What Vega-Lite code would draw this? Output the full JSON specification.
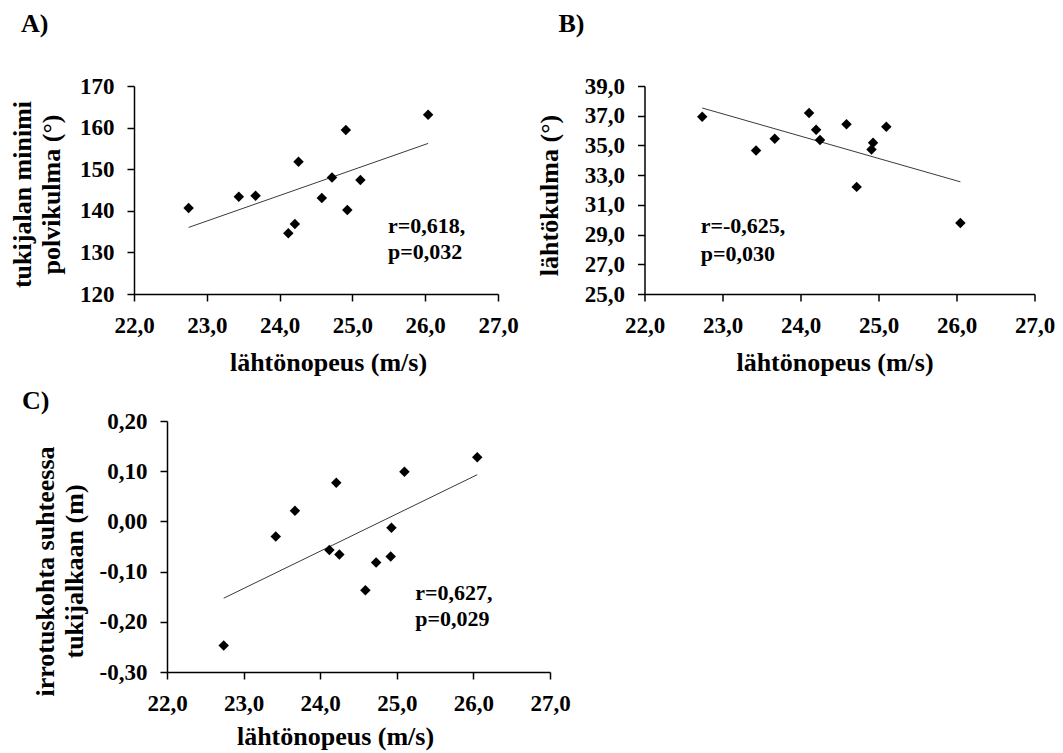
{
  "$schema": "https://vega.github.io/schema/vega-lite/v6.json",
  "background": "white",
  "padding": {"left": 8, "top": 11, "right": 5, "bottom": 5},
  "datasets": {
    "a": [
      {"x": 22.75, "y": 140.65}, {"x": 23.44, "y": 143.4}, {"x": 23.67, "y": 143.6},
      {"x": 24.12, "y": 134.6}, {"x": 24.21, "y": 136.8}, {"x": 24.26, "y": 151.8},
      {"x": 24.58, "y": 143.05}, {"x": 24.72, "y": 148.0}, {"x": 24.91, "y": 159.4},
      {"x": 24.93, "y": 140.2}, {"x": 25.11, "y": 147.4}, {"x": 26.04, "y": 163.1}
    ],
    "aLine": [{"x": 22.75, "y": 136.0}, {"x": 26.04, "y": 156.2}],
    "aText": [{"x": 25.49, "y": 136.4, "label": "r=0,618,"}, {"x": 25.49, "y": 130.0, "label": "p=0,032"}],
    "b": [
      {"x": 22.74, "y": 36.93}, {"x": 23.43, "y": 34.66}, {"x": 23.67, "y": 35.45},
      {"x": 24.11, "y": 37.18}, {"x": 24.2, "y": 36.06}, {"x": 24.25, "y": 35.36},
      {"x": 24.59, "y": 36.42}, {"x": 24.72, "y": 32.21}, {"x": 24.91, "y": 34.73},
      {"x": 24.93, "y": 35.18}, {"x": 25.1, "y": 36.26}, {"x": 26.05, "y": 29.78}
    ],
    "bLine": [{"x": 22.74, "y": 37.52}, {"x": 26.05, "y": 32.55}],
    "bText": [{"x": 22.72, "y": 29.6, "label": "r=-0,625,"}, {"x": 22.72, "y": 27.7, "label": "p=0,030"}],
    "c": [
      {"x": 22.74, "y": -0.247}, {"x": 23.42, "y": -0.03}, {"x": 23.67, "y": 0.021},
      {"x": 24.12, "y": -0.057}, {"x": 24.21, "y": 0.077}, {"x": 24.25, "y": -0.066},
      {"x": 24.59, "y": -0.137}, {"x": 24.73, "y": -0.082}, {"x": 24.92, "y": -0.07},
      {"x": 24.93, "y": -0.0125}, {"x": 25.1, "y": 0.099}, {"x": 26.05, "y": 0.128}
    ],
    "cLine": [{"x": 22.74, "y": -0.153}, {"x": 26.05, "y": 0.093}],
    "cText": [{"x": 25.24, "y": -0.142, "label": "r=0,627,"}, {"x": 25.24, "y": -0.195, "label": "p=0,029"}]
  },
  "spacing": 13,
  "vconcat": [
    {
      "bounds": "flush",
      "spacing": 146.5,
      "hconcat": [
        {
          "title": {"text": "A)", "dx": -113, "offset": 38},
          "width": 364,
          "height": 208,
          "layer": [
            {
              "data": {"name": "aLine"},
              "mark": {"type": "line", "color": "#3a3a3a", "strokeWidth": 1},
              "encoding": {
                "x": {"field": "x", "type": "quantitative", "scale": {"domain": [22, 27], "nice": false, "zero": false},
                  "axis": {"values": [22, 23, 24, 25, 26, 27], "tickCount": 12, "format": ".1f", "labelOverlap": false, "title": "lähtönopeus (m/s)", "titleX": 194, "titleY": 76}},
                "y": {"field": "y", "type": "quantitative", "scale": {"domain": [120, 170], "nice": false, "zero": false},
                  "axis": {"values": [120, 130, 140, 150, 160, 170], "tickCount": 12, "format": "d", "labelOverlap": false, "title": ["tukijalan minimi", "polvikulma (°)"], "titleX": -104, "titleY": 108}}
              }
            },
            {
              "data": {"name": "a"},
              "mark": {"type": "point", "shape": "diamond", "filled": true, "color": "black", "size": 110, "opacity": 1},
              "encoding": {"x": {"field": "x", "type": "quantitative"}, "y": {"field": "y", "type": "quantitative"}}
            },
            {
              "data": {"name": "aText"},
              "mark": {"type": "text", "align": "left", "baseline": "middle", "font": "Liberation Serif", "fontWeight": "bold", "fontSize": 22, "color": "black"},
              "encoding": {"x": {"field": "x", "type": "quantitative"}, "y": {"field": "y", "type": "quantitative"}, "text": {"field": "label"}}
            }
          ]
        },
        {
          "title": {"text": "B)", "dx": -86, "offset": 38},
          "width": 390,
          "height": 208,
          "layer": [
            {
              "data": {"name": "bLine"},
              "mark": {"type": "line", "color": "#3a3a3a", "strokeWidth": 1},
              "encoding": {
                "x": {"field": "x", "type": "quantitative", "scale": {"domain": [22, 27], "nice": false, "zero": false},
                  "axis": {"values": [22, 23, 24, 25, 26, 27], "tickCount": 12, "format": ".1f", "labelOverlap": false, "title": "lähtönopeus (m/s)", "titleX": 190, "titleY": 76}},
                "y": {"field": "y", "type": "quantitative", "scale": {"domain": [25, 39], "nice": false, "zero": false},
                  "axis": {"values": [25, 27, 29, 31, 33, 35, 37, 39], "tickCount": 12, "format": ".1f", "labelOverlap": false, "title": "lähtökulma (°)", "titleX": -87, "titleY": 109}}
              }
            },
            {
              "data": {"name": "b"},
              "mark": {"type": "point", "shape": "diamond", "filled": true, "color": "black", "size": 110, "opacity": 1},
              "encoding": {"x": {"field": "x", "type": "quantitative"}, "y": {"field": "y", "type": "quantitative"}}
            },
            {
              "data": {"name": "bText"},
              "mark": {"type": "text", "align": "left", "baseline": "middle", "font": "Liberation Serif", "fontWeight": "bold", "fontSize": 22, "color": "black"},
              "encoding": {"x": {"field": "x", "type": "quantitative"}, "y": {"field": "y", "type": "quantitative"}, "text": {"field": "label"}}
            }
          ]
        }
      ]
    },
    {
      "bounds": "flush",
      "spacing": 32,
      "hconcat": [
        {
          "width": 1,
          "height": 1,
          "data": {"values": [{"v": 0}]},
          "mark": {"type": "point", "opacity": 0},
          "encoding": {}
        },
        {
          "title": {"text": "C)", "dx": -145, "offset": -4},
          "width": 383,
          "height": 251,
          "layer": [
            {
              "data": {"name": "cLine"},
              "mark": {"type": "line", "color": "#3a3a3a", "strokeWidth": 1},
              "encoding": {
                "x": {"field": "x", "type": "quantitative", "scale": {"domain": [22, 27], "nice": false, "zero": false},
                  "axis": {"values": [22, 23, 24, 25, 26, 27], "tickCount": 12, "format": ".1f", "labelOverlap": false, "title": "lähtönopeus (m/s)", "titleX": 168, "titleY": 72}},
                "y": {"field": "y", "type": "quantitative", "scale": {"domain": [-0.3, 0.2], "nice": false, "zero": false},
                  "axis": {"values": [-0.3, -0.2, -0.1, 0, 0.1, 0.2], "tickCount": 12, "format": ".2f", "labelOverlap": false, "title": ["irrotuskohta suhteessa", "tukijalkaan (m)"], "titleX": -114, "titleY": 150}}
              }
            },
            {
              "data": {"name": "c"},
              "mark": {"type": "point", "shape": "diamond", "filled": true, "color": "black", "size": 110, "opacity": 1},
              "encoding": {"x": {"field": "x", "type": "quantitative"}, "y": {"field": "y", "type": "quantitative"}}
            },
            {
              "data": {"name": "cText"},
              "mark": {"type": "text", "align": "left", "baseline": "middle", "font": "Liberation Serif", "fontWeight": "bold", "fontSize": 22, "color": "black"},
              "encoding": {"x": {"field": "x", "type": "quantitative"}, "y": {"field": "y", "type": "quantitative"}, "text": {"field": "label"}}
            }
          ]
        }
      ]
    }
  ],
  "config": {
    "locale": {"number": {"decimal": ",", "thousands": " ", "grouping": [3], "currency": ["", " €"], "minus": "-"}},
    "view": {"stroke": null},
    "axis": {
      "grid": false,
      "domainColor": "black",
      "domainWidth": 1.5,
      "tickColor": "black",
      "tickWidth": 1.5,
      "tickSize": 7,
      "labelPadding": 13,
      "labelFont": "Liberation Serif",
      "labelFontWeight": "bold",
      "labelFontSize": 23,
      "labelColor": "black",
      "labelFlush": false,
      "labelOverlap": false,
      "labelBound": false,
      "titleFont": "Liberation Serif",
      "titleFontWeight": "bold",
      "titleFontSize": 26,
      "titleColor": "black",
      "titleBaseline": "alphabetic",
      "titleLineHeight": 29
    },
    "title": {
      "anchor": "start",
      "frame": "group",
      "font": "Liberation Serif",
      "fontWeight": "bold",
      "fontSize": 26,
      "color": "black",
      "baseline": "alphabetic"
    }
  }
}
